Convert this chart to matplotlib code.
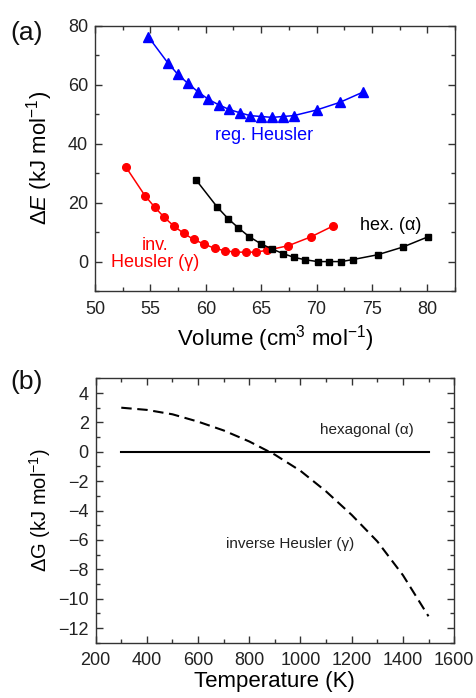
import matplotlib
matplotlib.use('Agg')
import matplotlib.pyplot as plt
from matplotlib.ticker import MultipleLocator

plt.rcParams['font.family'] = ['Liberation Sans', 'DejaVu Sans']
plt.rcParams['mathtext.fontset'] = 'custom'
plt.rcParams['mathtext.rm'] = 'Liberation Sans'
plt.rcParams['mathtext.it'] = 'Liberation Sans:italic'

# panel (a): energy vs volume
reg_vol = [54.8, 56.55, 57.45, 58.36, 59.29, 60.2, 61.15, 62.1, 63.05, 64.0, 65.0, 66.0, 66.95, 67.94, 70.0, 72.1, 74.2]
reg_E = [76.3, 67.5, 63.6, 60.5, 57.6, 55.1, 53.2, 51.6, 50.5, 49.5, 49.2, 48.9, 49.2, 49.5, 51.4, 54.0, 57.5]

inv_vol = [52.8, 54.5, 55.4, 56.25, 57.1, 58.0, 58.9, 59.86, 60.8, 61.7, 62.65, 63.6, 64.5, 65.5, 67.46, 69.5, 71.5]
inv_E = [32.0, 22.4, 18.4, 15.0, 12.1, 9.6, 7.5, 5.9, 4.5, 3.7, 3.2, 3.2, 3.2, 3.8, 5.4, 8.4, 12.1]

hex_vol = [59.14, 61.03, 62.0, 62.95, 63.9, 64.94, 65.96, 66.98, 68.0, 69.0, 70.1, 71.16, 72.24, 73.3, 75.5, 77.77, 80.06]
hex_E = [27.6, 18.5, 14.6, 11.4, 8.5, 6.1, 4.3, 2.7, 1.4, 0.6, 0.0, 0.0, 0.0, 0.7, 2.3, 4.9, 8.4]

# panel (b): free energy difference vs temperature
temp = [300, 400, 500, 600, 700, 800, 900, 1000, 1100, 1200, 1300, 1400, 1500]
dG_inv = [3.0, 2.85, 2.55, 2.05, 1.45, 0.7, -0.2, -1.3, -2.7, -4.3, -6.1, -8.4, -11.2]
dG_hex = [0.0] * len(temp)

fig = plt.figure(figsize=(4.76, 6.98), dpi=100)
ax1 = fig.add_axes([0.1996, 0.583, 0.7564, 0.3802])
ax2 = fig.add_axes([0.201, 0.0792, 0.753, 0.3788])

ax1.plot(reg_vol, reg_E, '-^', color='#0000ff', lw=1.1, ms=6.5)
ax1.plot(inv_vol, inv_E, '-o', color='#ff0000', lw=1.1, ms=5.5)
ax1.plot(hex_vol, hex_E, '-s', color='black', lw=1.1, ms=4.8)

ax1.text(65.3, 42.9, 'reg. Heusler', color='#0000ff', fontsize=13, ha='center', va='center')
ax1.text(76.7, 12.1, 'hex. (\u03b1)', color='black', fontsize=13, ha='center', va='center')
ax1.text(55.4, 5.6, 'inv.', color='#ff0000', fontsize=13, ha='center', va='center')
ax1.text(55.4, -0.2, 'Heusler (\u03b3)', color='#ff0000', fontsize=13, ha='center', va='center')

ax1.set_xlim(50, 82.5)
ax1.set_ylim(-10, 80)
ax1.xaxis.set_major_locator(MultipleLocator(5))
ax1.xaxis.set_minor_locator(MultipleLocator(2.5))
ax1.yaxis.set_major_locator(MultipleLocator(20))
ax1.yaxis.set_minor_locator(MultipleLocator(10))
ax1.set_xlabel('Volume (cm$^3$ mol$^{-1}$)', fontsize=16, labelpad=4)
ax1.set_ylabel('$\\Delta\\mathit{E}$ (kJ mol$^{-1}$)', fontsize=16, labelpad=9)

ax2.plot(temp, dG_hex, '-', color='black', lw=1.5)
ax2.plot(temp, dG_inv, '--', color='black', lw=1.5, dashes=(5, 2.7))
ax2.text(1259, 1.45, 'hexagonal (\u03b1)', fontsize=11, ha='center', va='center', color='#222222')
ax2.text(959, -6.26, 'inverse Heusler (\u03b3)', fontsize=11, ha='center', va='center', color='#222222')

ax2.set_xlim(200, 1600)
ax2.set_ylim(-13, 5)
ax2.xaxis.set_major_locator(MultipleLocator(200))
ax2.xaxis.set_minor_locator(MultipleLocator(100))
ax2.yaxis.set_major_locator(MultipleLocator(2))
ax2.yaxis.set_minor_locator(MultipleLocator(1))
ax2.set_xlabel('Temperature (K)', fontsize=16, labelpad=1)
ax2.set_ylabel('$\\Delta$G (kJ mol$^{-1}$)', fontsize=14.5, labelpad=4)

for ax in (ax1, ax2):
    for sp in ax.spines.values():
        sp.set_color('#333333')
        sp.set_linewidth(1.0)
    ax.tick_params(which='both', direction='in', top=True, right=True,
                   color='#333333', labelsize=13, labelcolor='#222222')
    ax.tick_params(which='major', length=5, width=1.0)
    ax.tick_params(which='minor', length=3, width=1.0)
    ax.tick_params(axis='x', pad=7)
    ax.tick_params(axis='y', pad=5)

fig.text(0.022, 0.953, '(a)', fontsize=19, color='#111111', va='center')
fig.text(0.022, 0.453, '(b)', fontsize=19, color='#111111', va='center')

fig.savefig('out.png', dpi=100)
